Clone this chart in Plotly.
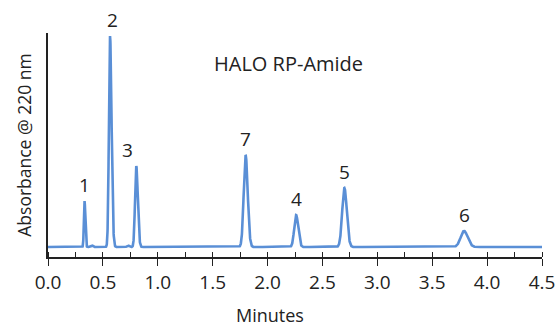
import numpy as np
import plotly.graph_objects as go

# Peak table (minutes, relative absorbance, widths)
peak_labels = ["1", "2", "3", "7", "4", "5", "6"]
retention_times = [0.333, 0.565, 0.804, 1.80, 2.26, 2.70, 3.79]
peak_heights = [46, 211, 81, 92, 32, 59, 16]
sigma_front = [0.006, 0.010, 0.011, 0.017, 0.017, 0.020, 0.031]
sigma_tail = [0.007, 0.014, 0.014, 0.019, 0.019, 0.022, 0.033]

# small baseline disturbances
minor_times = [0.40, 0.73, 1.15]
minor_heights = [1.5, 1.5, 0.6]
minor_sigma = [0.008, 0.010, 0.02]

x_tick_vals = [0.0, 0.5, 1.0, 1.5, 2.0, 2.5, 3.0, 3.5, 4.0, 4.5]
x_tick_text = ["0.0", "0.5", "1.0", "1.5", "2.0", "2.5", "3.0", "3.5", "4.0", "4.5"]

t = np.linspace(0.0, 4.5, 4501)
signal = np.zeros_like(t)
for rt, h, sf, st in zip(retention_times, peak_heights, sigma_front, sigma_tail):
    s = np.where(t < rt, sf, st)
    signal += h * np.exp(-0.5 * ((t - rt) / s) ** 2)
for rt, h, s in zip(minor_times, minor_heights, minor_sigma):
    signal += h * np.exp(-0.5 * ((t - rt) / s) ** 2)

FONT = "Open Sans"
INK = "#222222"

fig = go.Figure()
fig.add_trace(go.Scatter(x=t, y=signal, mode="lines",
                         line=dict(color="#5A8FD6", width=2.6),
                         hoverinfo="skip", showlegend=False))
# invisible trace on overlay axis so the crossing major ticks render
fig.add_trace(go.Scatter(x=[0, 4.5], y=[0, 0], xaxis="x2", mode="lines",
                         line=dict(width=0), hoverinfo="skip", showlegend=False))

label_xshift = {"2": 2, "3": -9}
for lab, rt, h in zip(peak_labels, retention_times, peak_heights):
    fig.add_annotation(x=rt, y=h, text=lab, showarrow=False,
                       yanchor="bottom", yshift=1, xshift=label_xshift.get(lab, 0),
                       font=dict(family=FONT, size=19, color=INK))

fig.add_annotation(xref="paper", yref="paper", x=0.486, y=0.933,
                   text="HALO RP-Amide", showarrow=False,
                   font=dict(family=FONT, size=20, color=INK))

# x-axis title as an annotation so it can sit low in the margin
fig.add_annotation(xref="paper", yref="paper", x=0.45, y=-0.257,
                   yanchor="middle", text="Minutes", showarrow=False,
                   font=dict(family=FONT, size=18, color=INK))

fig.update_layout(
    width=558, height=328,
    margin=dict(l=48, r=16, t=33, b=71),
    paper_bgcolor="white", plot_bgcolor="white",
    font=dict(family=FONT, size=16, color=INK),
    xaxis=dict(range=[0, 4.5], tickvals=x_tick_vals, ticktext=x_tick_text,
               ticks="outside", ticklen=7, tickwidth=1.3, tickcolor=INK,
               showline=True, linecolor=INK, linewidth=1.5,
               showgrid=False, zeroline=False, automargin=False,
               tickfont=dict(family=FONT, size=19, color=INK),
               minor=dict(dtick=0.25, ticks="inside", ticklen=5, tickwidth=1.3,
                          tickcolor=INK, showgrid=False)),
    xaxis2=dict(range=[0, 4.5], overlaying="x", anchor="y", side="bottom",
                tickvals=x_tick_vals, ticks="inside", ticklen=5, tickwidth=1.3,
                tickcolor=INK, showticklabels=False, showline=False,
                showgrid=False, zeroline=False, automargin=False),
    yaxis=dict(range=[-10, 214], showticklabels=False, ticks="",
               showline=True, linecolor=INK, linewidth=1.5,
               showgrid=False, zeroline=False, automargin=False,
               title=dict(text="Absorbance @ 220 nm",
                          font=dict(family=FONT, size=17.5, color=INK), standoff=10)),
)

# remove the default page margin so the 558x328 figure fills the window exactly
fig.write_html("out.html",
               config={"displayModeBar": False},
               post_script="document.body.style.margin='0px';"
                           "document.body.style.overflow='hidden';")
